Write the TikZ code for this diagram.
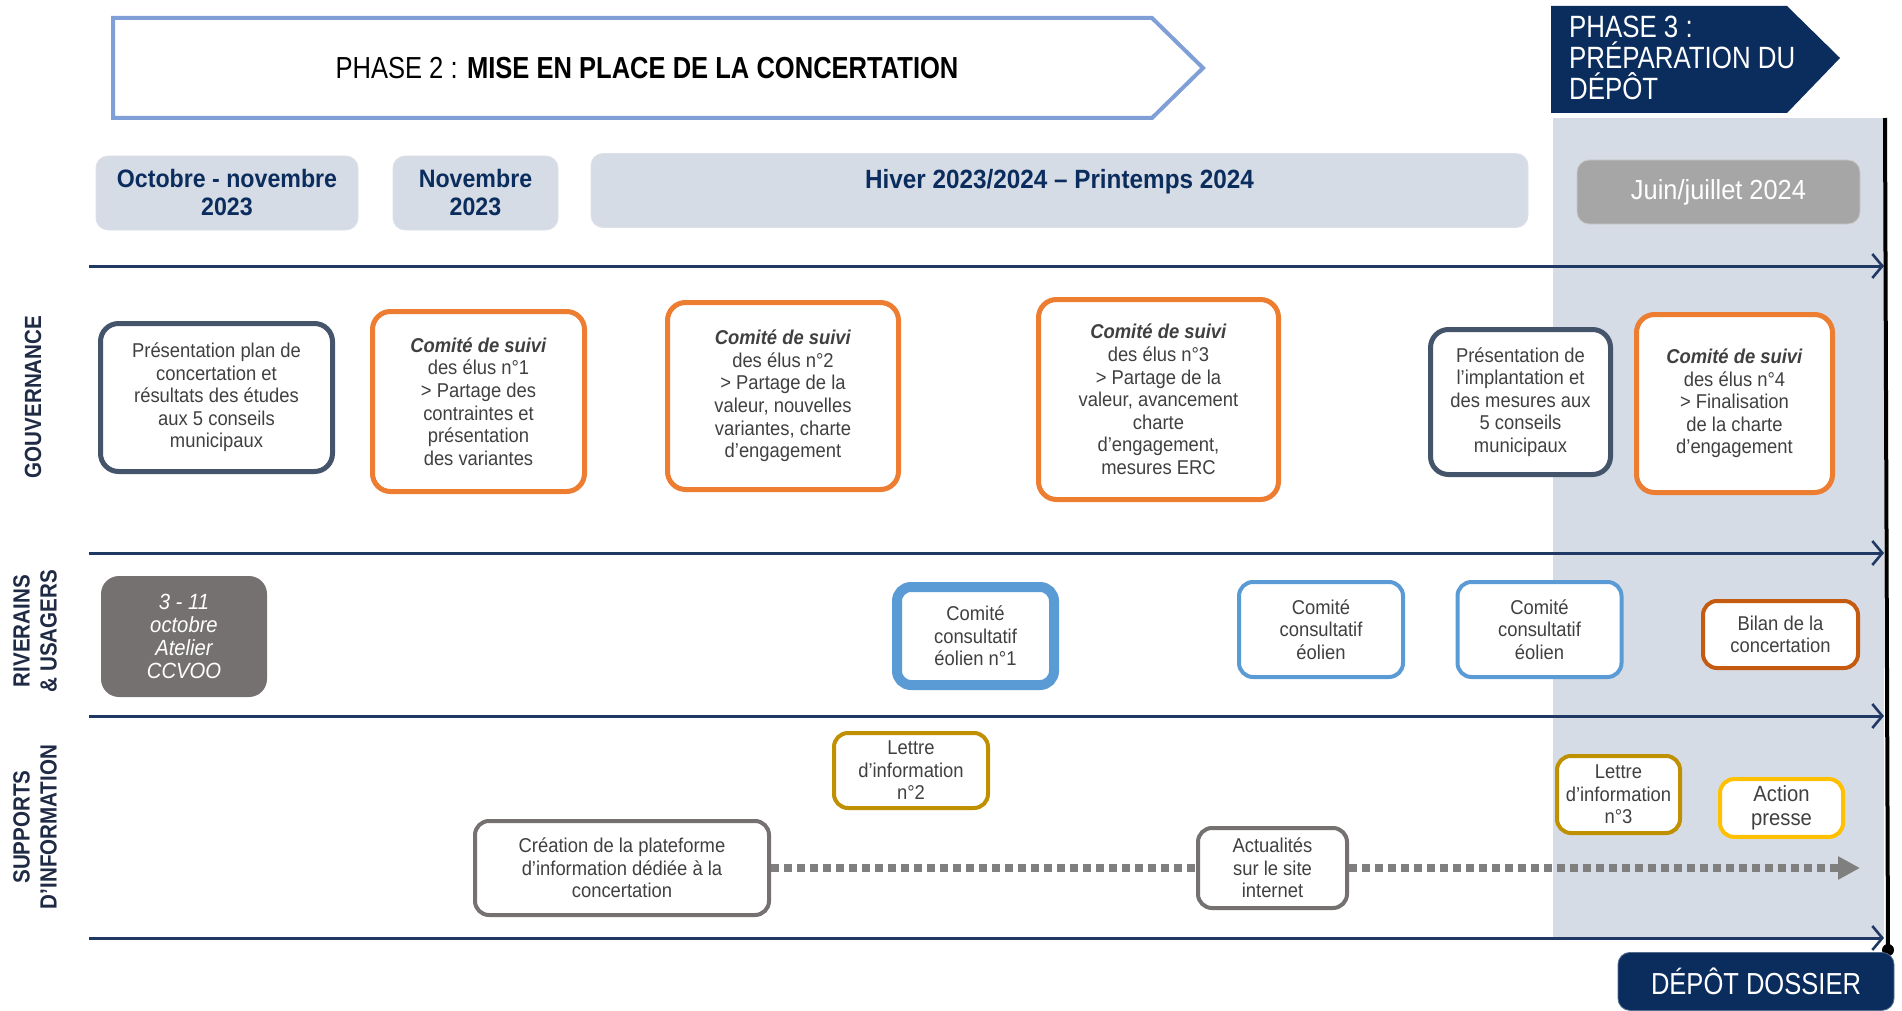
\documentclass[tikz,border=0pt]{standalone}
\usepackage{fontspec}
\setmainfont[FakeStretch = 0.92]{Liberation Sans}
\newfontfamily\narrowfont[FakeStretch = 0.84]{Liberation Sans}
\newfontfamily\labelfont[FakeStretch = 0.88]{Liberation Sans}
\usetikzlibrary{arrows.meta}
\definecolor{navy}{HTML}{0B2D5E}
\definecolor{axisnavy}{HTML}{1F3864}
\definecolor{rowcolor}{HTML}{1F2A44}
\definecolor{slate}{HTML}{44546A}
\definecolor{orangebox}{HTML}{ED7D31}
\definecolor{rustbox}{HTML}{C55A11}
\definecolor{bluebox}{HTML}{5B9BD5}
\definecolor{goldbox}{HTML}{BF9000}
\definecolor{yellowbox}{HTML}{FFC000}
\definecolor{greybox}{HTML}{767171}
\definecolor{greyline}{HTML}{7F7F7F}
\definecolor{datefill}{HTML}{D6DCE5}
\definecolor{juinfill}{HTML}{A6A6A6}
\definecolor{phasetwo}{HTML}{7F9FD6}
\definecolor{textgrey}{HTML}{404040}
\def\suivi{\textbf{\textit{Comité de suivi}}}

\begin{document}
\begin{tikzpicture}[x = 0.5pt, y = -0.5pt,
		axis/.style = {line width = 1.5pt, axisnavy, -{Straight Barb[length = 5pt, width = 12pt, line width = 1.3pt]}},
		datebox/.style = {fill = datefill, draw = datefill!85!white, rounded corners = 6pt, text = navy, align = center, font = \bfseries\fontsize{12.6}{14}\selectfont, minimum height = 37pt},
		evt/.style = {draw, fill = white, line width = 2.5pt, rounded corners = 9pt, align = center, text = textgrey, font = \fontsize{10}{11.3}\selectfont},
		elus/.style = {evt, draw = orangebox},
		conseil/.style = {evt, draw = slate},
		comite/.style = {evt, draw = bluebox, line width = 2pt, rounded corners = 7pt},
		support/.style = {evt, line width = 2pt, rounded corners = 7pt},
		rowlabel/.style = {rotate = 90, align = center, text = rowcolor, font = \labelfont\bfseries\fontsize{11.7}{13.5}\selectfont},
		infoline/.style = {line width = 4pt, greyline, dash pattern = on 4pt off 2.5pt}
	]
		\useasboundingbox (0, 0) rectangle (1902, 1011);
		% phase 3 background
		\fill[datefill] (1553, 118) rectangle (1884, 938);
		% phases
		\draw[phasetwo, line width = 2pt, fill = white] (113, 18) -- (1152, 18) -- (1203, 68) -- (1152, 118) -- (113, 118) -- cycle;
		\node[font = \narrowfont\fontsize{15.2}{17}\selectfont] (phase2) at (647, 68) {PHASE 2 : \textbf{MISE EN PLACE DE LA CONCERTATION}};
		\fill[navy] (1551, 6) -- (1787, 6) -- (1840, 58) -- (1787, 113) -- (1551, 113) -- cycle;
		\node[anchor = west, align = left, text = white, font = \narrowfont\fontsize{15.4}{15.4}\selectfont] (phase3) at (1562, 58) {PHASE 3 :\\PRÉPARATION DU\\DÉPÔT};
		% dates
		\node[datebox, minimum width = 131pt] (octnov) at (227, 193) {Octobre - novembre\\2023};
		\node[datebox, minimum width = 82.5pt] (nov) at (475.5, 193) {Novembre\\2023};
		\node[datebox, font = \bfseries\fontsize{13.2}{14}\selectfont, minimum width = 468.5pt, text height = 9.5pt, text depth = 11pt] (hiver) at (1059.5, 190.5) {Hiver 2023/2024 – Printemps 2024};
		\node[datebox, fill = juinfill, draw = juinfill!60!white, text = white, font = \fontsize{13.8}{15}\selectfont, minimum width = 141.5pt, minimum height = 32pt] (juin) at (1718.5, 192) {Juin/juillet 2024};
		% time axes
		\foreach \y in {266, 553, 716, 938}
			\draw[axis] (89, \y) -- (1884, \y);
		\coordinate (depotpt) at (1888, 950);
		\draw[line width = 2pt] (1885, 118) -- (depotpt);
		\fill (depotpt) circle (3pt);
		% row labels
		\node[rowlabel] (gouv) at (33, 397) {GOUVERNANCE};
		\node[rowlabel] (riv) at (35, 631) {RIVERAINS\\\& USAGERS};
		\node[rowlabel] (supp) at (35, 827) {SUPPORTS\\D’INFORMATION};
		% gouvernance
		\node[conseil, minimum width = 116pt, minimum height = 74pt] (plan) at (216.5, 397.5) {Présentation plan de\\concertation et\\résultats des études\\aux 5 conseils\\municipaux};
		\node[elus, minimum width = 106pt, minimum height = 90pt] (suivi1) at (478.5, 401.5) {\suivi\\des élus n°1\\> Partage des\\contraintes et\\présentation\\des variantes};
		\node[elus, minimum width = 115.5pt, minimum height = 93.5pt] (suivi2) at (783, 396) {\suivi\\des élus n°2\\> Partage de la\\valeur, nouvelles\\variantes, charte\\d’engagement};
		\node[elus, minimum width = 120pt, minimum height = 100pt] (suivi3) at (1158.5, 399.5) {\suivi\\des élus n°3\\> Partage de la\\valeur, avancement\\charte\\d’engagement,\\mesures ERC};
		\node[conseil, minimum width = 90pt, minimum height = 72.5pt] (implant) at (1520.5, 402) {Présentation de\\l’implantation et\\des mesures aux\\5 conseils\\municipaux};
		\node[elus, minimum width = 98pt, minimum height = 89pt] (suivi4) at (1734.5, 403.5) {\suivi\\des élus n°4\\> Finalisation\\de la charte\\d’engagement};
		% riverains et usagers
		\node[fill = greybox, rounded corners = 9pt, text = white, align = center, font = \itshape\fontsize{11}{11.5}\selectfont, minimum width = 83pt, minimum height = 60.5pt] (atelier) at (184, 636.5) {3 - 11\\octobre\\Atelier\\CCVOO};
		\node[comite, line width = 5pt, minimum width = 78.5pt, minimum height = 49pt] (cce1) at (975.5, 636) {Comité\\consultatif\\éolien n°1};
		\node[comite, minimum width = 82pt, minimum height = 47.5pt] (cce2) at (1321, 629.5) {Comité\\consultatif\\éolien};
		\node[comite, minimum width = 82pt, minimum height = 47.5pt] (cce3) at (1539.5, 629.5) {Comité\\consultatif\\éolien};
		\node[support, draw = rustbox, minimum width = 77.5pt, minimum height = 33.5pt] (bilan) at (1780.5, 634.5) {Bilan de la\\concertation};
		% supports d'information
		\node[support, draw = goldbox, minimum width = 77pt, minimum height = 37.5pt] (lettre2) at (911, 770.5) {Lettre\\d’information\\n°2};
		\node[support, draw = greybox, minimum width = 147pt, minimum height = 47pt] (plateforme) at (622, 868) {Création de la plateforme\\d’information dédiée à la\\concertation};
		\node[support, draw = greybox, minimum width = 74.5pt, minimum height = 40pt] (actu) at (1272.5, 868) {Actualités\\sur le site\\internet};
		\node[support, draw = goldbox, minimum width = 61.5pt, minimum height = 38.5pt] (lettre3) at (1618.5, 794.5) {Lettre\\d’information\\n°3};
		\node[support, draw = yellowbox, font = \fontsize{11}{12}\selectfont, minimum width = 61.5pt, minimum height = 28pt] (presse) at (1781.5, 808) {Action\\presse};
		\coordinate (infoend) at (1860, 868);
		\draw[infoline] (plateforme) -- (actu);
		\draw[infoline, -{Triangle[length = 11pt, width = 11pt]}] (actu) -- (infoend);
		% depot
		\node[fill = navy, draw = navy!70!white, rounded corners = 6pt, text = white, font = \narrowfont\fontsize{15.2}{16}\selectfont, minimum width = 138pt, minimum height = 29pt, anchor = north] (depot) at (1756, 952) {DÉPÔT DOSSIER};
	\end{tikzpicture}
\end{document}
